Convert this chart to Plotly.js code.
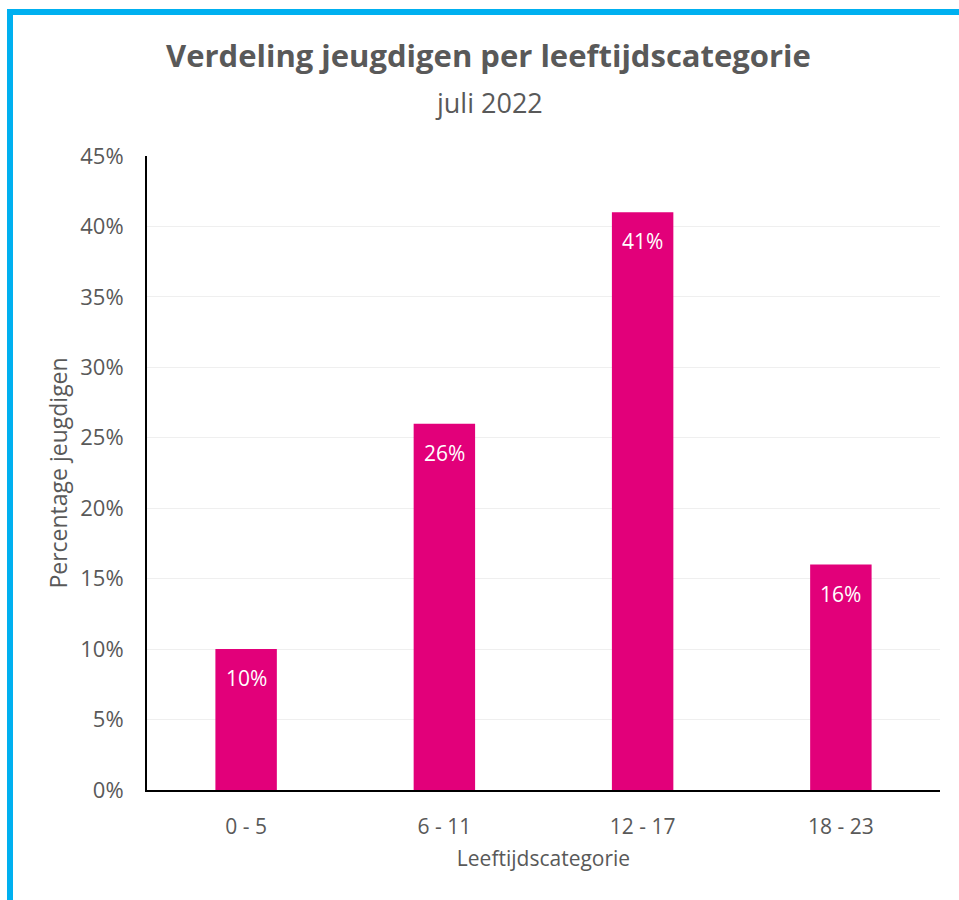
<!DOCTYPE html>
<html>
<head>
<meta charset="utf-8">
<script src="https://cdn.plot.ly/plotly-3.0.1.min.js"></script>
<style>
  html, body { margin: 0; padding: 0; background: #ffffff; }
  #wrap { position: relative; width: 959px; height: 900px; overflow: hidden; }
  #chart { width: 959px; height: 900px; }
  #frame { position: absolute; left: 7px; top: 9px; width: 1000px; height: 1000px;
           border-left: 6px solid #00B0F0; border-top: 6px solid #00B0F0; pointer-events: none; }
</style>
</head>
<body>
<div id="wrap">
  <div id="chart"></div>
  <div id="frame"></div>
</div>
<script>
const categories = ["0 - 5", "6 - 11", "12 - 17", "18 - 23"];
const percentages = [0.10, 0.26, 0.41, 0.16];
const yTicks = [0, 0.05, 0.10, 0.15, 0.20, 0.25, 0.30, 0.35, 0.40, 0.45];
const yTickLabels = ["0%", "5%", "10%", "15%", "20%", "25%", "30%", "35%", "40%", "45%"];
const chartTitle = "Verdeling jeugdigen per leeftijdscategorie";
const chartSubtitle = "juli 2022";

const FONT = "'Open Sans', sans-serif";
const GREY = "#595959";

const trace = {
  type: "bar",
  x: categories,
  y: percentages,
  marker: { color: "#E2007A" },
  hoverinfo: "skip"
};

const labelAnnotations = categories.map((c, i) => ({
  x: c, y: percentages[i], xref: "x", yref: "y",
  text: Math.round(percentages[i] * 100) + "%",
  showarrow: false, yanchor: "middle", yshift: -29,
  font: { family: FONT, size: 21, color: "#ffffff" }
}));

const layout = {
  width: 959,
  height: 900,
  margin: { l: 147, r: 19, t: 156, b: 110 },
  paper_bgcolor: "#ffffff",
  plot_bgcolor: "#ffffff",
  bargap: 0.69,
  showlegend: false,
  font: { family: FONT, color: GREY },
  annotations: labelAnnotations.concat([
    { text: "<b>" + chartTitle + "</b>", xref: "paper", yref: "paper", x: 0.4307, y: 1.159,
      xanchor: "center", yanchor: "middle", showarrow: false,
      font: { family: FONT, size: 31, color: GREY } },
    { text: chartSubtitle, xref: "paper", yref: "paper", x: 0.4307, y: 1.0836,
      xanchor: "center", yanchor: "middle", showarrow: false,
      font: { family: FONT, size: 27, color: GREY } }
  ]),
  xaxis: {
    type: "category",
    showline: true, linecolor: "#000000", linewidth: 2,
    ticks: "", showgrid: false,
    tickfont: { family: FONT, size: 21, color: GREY },
    ticklabelstandoff: 17,
    title: { text: "Leeftijdscategorie", font: { family: FONT, size: 21, color: GREY }, standoff: 12 }
  },
  yaxis: {
    range: [0, 0.45],
    tickvals: yTicks,
    ticktext: yTickLabels,
    showline: true, linecolor: "#000000", linewidth: 2,
    ticks: "",
    gridcolor: "#EFEFEF", gridwidth: 1,
    zeroline: false,
    tickfont: { family: FONT, size: 22, color: GREY },
    ticklabelstandoff: 17,
    title: { text: "Percentage jeugdigen", font: { family: FONT, size: 23, color: GREY }, standoff: 6 }
  }
};

Plotly.newPlot("chart", [trace], layout, { displayModeBar: false, staticPlot: true });
</script>
</body>
</html>
